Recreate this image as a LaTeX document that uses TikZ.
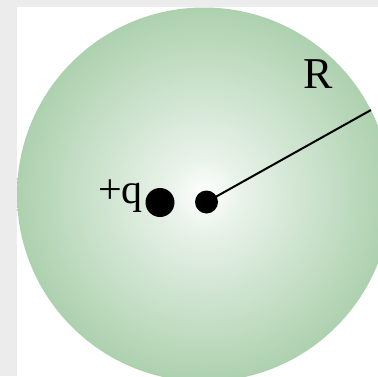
\documentclass[tikz,border=0pt]{standalone}
\usepackage{fontspec}
\setmainfont{Liberation Serif}
\usepackage{xcolor}
\usetikzlibrary{positioning}
\definecolor{bggray}{RGB}{236,236,236}
\definecolor{spheregreen}{RGB}{164,204,166}
\colorlet{spherepale}{white!75!spheregreen}
\pgfdeclareradialshading{sphere}{\pgfpoint{0bp}{0bp}}{%
  color(0bp)=(white); color(5bp)=(spherepale);
  color(28bp)=(spheregreen); color(50bp)=(spheregreen)}

\begin{document}
\begin{tikzpicture}[
  x=1pt,y=-1pt,
  bigdot/.style={circle,fill=black,inner sep=0pt,minimum size=29pt},
  smalldot/.style={circle,fill=black,inner sep=0pt,minimum size=23pt},
  radius line/.style={black,line width=2pt},
  lbl/.style={inner sep=0pt}]

  \useasboundingbox (0,0) rectangle (378,376);
  \fill[bggray] (0,0) rectangle (378,376);
  \fill[white] (17,7) rectangle (378,376);

  \begin{scope}
    \clip (17,7) rectangle (378,376);
    \shade[shading=sphere] (204,194.5) circle (187); % charged sphere
  \end{scope}

  \node[bigdot] (charge) at (160,202.5) {};
  \node[smalldot] (centre) at (206.5,202) {};
  \coordinate (rim) at (371,110);
  \draw[radius line] (centre.center) -- (rim);

  \node[lbl,anchor=base east,font=\fontsize{42}{42}\selectfont] (qlabel)
    at (143,203) {+q};
  \node[lbl,anchor=base,font=\fontsize{44}{44}\selectfont] (rlabel)
    at (318,88) {R};
\end{tikzpicture}
\end{document}
